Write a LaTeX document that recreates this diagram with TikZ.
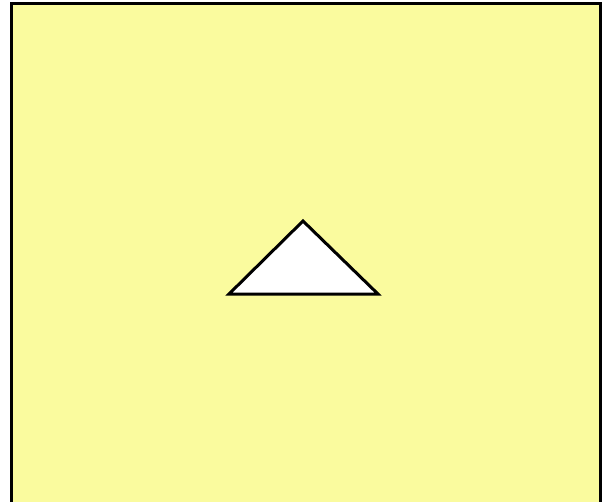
\documentclass[tikz,border=0pt]{standalone}
\definecolor{paleyellow}{RGB}{250,251,158}
\tikzset{
  panel/.style={fill=paleyellow, draw=black, line width=3pt},
  tri/.style={fill=white, draw=black, line width=3pt, line join=miter}
}
\begin{document}
\begin{tikzpicture}[x=1pt,y=-1pt]
  \useasboundingbox (0,0) rectangle (610,501);
  \clip (0,0) rectangle (610,501);
  \fill[white] (0,0) rectangle (610,501);
  \node[panel, draw, rectangle, minimum width=589pt, minimum height=510pt, anchor=north west, inner sep=0pt] (frame) at (10,2) {};
  \coordinate (apex) at (303,221);
  \coordinate (bl) at (229,294);
  \coordinate (br) at (378,294);
  \draw[tri] (apex) -- (bl) -- (br) -- cycle;
\end{tikzpicture}
\end{document}
